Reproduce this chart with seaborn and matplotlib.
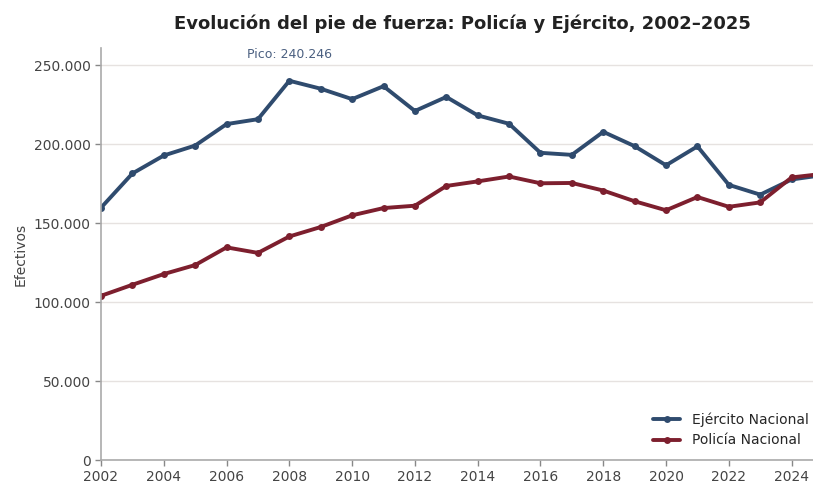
import numpy as np
import pandas as pd
import matplotlib
matplotlib.use("Agg")
import matplotlib.pyplot as plt
from matplotlib.ticker import FuncFormatter
import seaborn as sns

years = list(range(2002, 2026))
ejercito = [159800, 181500, 192900, 199200, 212800, 215900, 240246, 235200, 228600,
            236800, 221100, 230000, 218300, 213000, 194600, 193300, 207900, 198800,
            186700, 198700, 174300, 168100, 177700, 180500]
policia = [104000, 111000, 117800, 123500, 134700, 131200, 141600, 147600, 155000,
           159600, 161100, 173600, 176500, 179600, 175300, 175500, 170700, 163900,
           158200, 166600, 160400, 163200, 179000, 181300]
series_names = ["Ejército Nacional", "Policía Nacional"]
colors = ["#2f4b6e", "#7d1f2e"]

df = pd.DataFrame({
    "Año": years * 2,
    "Efectivos": ejercito + policia,
    "Serie": [series_names[0]] * len(years) + [series_names[1]] * len(years),
})

sns.set_theme(style="white")
plt.rcParams['font.family'] = ['DejaVu Sans']

fig = plt.figure(figsize=(8.13, 4.84), dpi=100)
ax = fig.add_axes([101/813, 1 - 460/484, (823 - 101)/813, (460 - 48)/484])

sns.lineplot(data=df, x="Año", y="Efectivos", hue="Serie", palette=colors,
             marker="o", markersize=5, markeredgewidth=0, linewidth=2.8, ax=ax)

ax.set_xlim(2002, 2025)
ax.set_ylim(0, 261000)
ax.set_xticks(list(range(2002, 2025, 2)))
ax.set_yticks([0, 50000, 100000, 150000, 200000, 250000])
ax.yaxis.set_major_formatter(FuncFormatter(lambda v, p: f"{int(v):,}".replace(",", ".")))
ax.grid(axis="y", color="#e6e2e0", linewidth=1)
ax.set_axisbelow(True)
for s in ["top", "right"]:
    ax.spines[s].set_visible(False)
for s in ["left", "bottom"]:
    ax.spines[s].set_color("#aaaaaa")
    ax.spines[s].set_linewidth(1.2)
ax.tick_params(axis="both", which="both", direction="out", length=4, width=1,
               color="#888888", labelcolor="#444444", labelsize=10, left=True, bottom=True)
ax.set_xlabel("")
ax.set_ylabel("Efectivos", fontsize=10, color="#444444")

peak_i = int(np.argmax(ejercito))
ax.annotate(f"Pico: {ejercito[peak_i]:,}".replace(",", "."),
            xy=(years[peak_i], ejercito[peak_i]), xytext=(0, 19),
            textcoords="offset points", ha="center", va="center",
            fontsize=9, color="#4a5f80")

leg = ax.legend(loc="lower right", frameon=False, fontsize=10,
                bbox_to_anchor=((813 - 101)/(823 - 101) + 0.011, 0.0))
ax.set_title("Evolución del pie de fuerza: Policía y Ejército, 2002–2025",
             fontsize=13, fontweight="bold", color="#222222", pad=14)

fig.savefig("out.png", dpi=100)
